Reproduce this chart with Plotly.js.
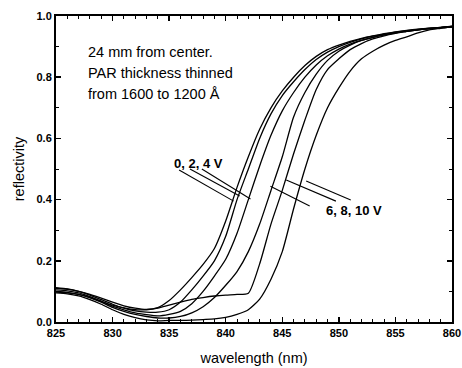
<!DOCTYPE html>
<html>
<head>
<meta charset="utf-8">
<script src="https://cdn.plot.ly/plotly-3.0.1.min.js"></script>
<style>
html,body{margin:0;padding:0;background:#fff;}
#chart{width:462px;height:368px;}
</style>
</head>
<body>
<div id="chart"></div>
<script>
// wavelength grid (nm)
var wavelength = [825,826,827,828,829,830,831,832,833,834,835,836,837,838,839,840,841,842,843,844,845,846,847,848,849,850,851,852,853,854,855,856,857,858,859,860];

// reflectivity curves for each bias voltage
var r0V  = [0.110,0.107,0.100,0.090,0.078,0.065,0.053,0.045,0.041,0.047,0.070,0.105,0.145,0.188,0.240,0.330,0.440,0.540,0.630,0.700,0.755,0.800,0.838,0.868,0.890,0.905,0.917,0.927,0.935,0.942,0.948,0.953,0.957,0.960,0.963,0.966];
var r2V  = [0.112,0.108,0.100,0.088,0.073,0.058,0.045,0.036,0.032,0.032,0.040,0.065,0.105,0.150,0.200,0.280,0.400,0.500,0.600,0.680,0.740,0.785,0.825,0.858,0.882,0.900,0.914,0.925,0.934,0.941,0.947,0.952,0.956,0.960,0.963,0.967];
var r4V  = [0.105,0.102,0.095,0.083,0.068,0.052,0.040,0.030,0.024,0.020,0.025,0.035,0.060,0.100,0.150,0.205,0.290,0.400,0.510,0.610,0.690,0.750,0.800,0.840,0.870,0.892,0.908,0.920,0.930,0.938,0.945,0.950,0.955,0.959,0.962,0.966];
var r6V  = [0.100,0.097,0.090,0.080,0.065,0.048,0.035,0.025,0.018,0.013,0.013,0.018,0.030,0.050,0.080,0.120,0.165,0.230,0.320,0.430,0.540,0.670,0.750,0.810,0.855,0.885,0.905,0.920,0.930,0.938,0.945,0.950,0.955,0.959,0.962,0.964];
var r8V  = [0.098,0.095,0.090,0.080,0.067,0.055,0.046,0.040,0.040,0.045,0.055,0.065,0.074,0.080,0.085,0.088,0.090,0.094,0.190,0.320,0.430,0.550,0.660,0.760,0.825,0.860,0.890,0.910,0.925,0.935,0.943,0.950,0.955,0.959,0.962,0.964];
var r10V = [0.095,0.092,0.085,0.073,0.058,0.040,0.025,0.014,0.007,0.004,0.005,0.005,0.006,0.008,0.010,0.015,0.025,0.040,0.075,0.140,0.230,0.370,0.500,0.610,0.700,0.765,0.820,0.860,0.885,0.905,0.920,0.932,0.945,0.955,0.960,0.965];

var seriesNames = ['0 V','2 V','4 V','6 V','8 V','10 V'];
var seriesValues = [r0V, r2V, r4V, r6V, r8V, r10V];

// axis ticks
var xTickVals = [825,830,835,840,845,850,855,860];
var xTickText = ['825','830','835','840','845','850','855','860'];
var yTickVals = [0,0.2,0.4,0.6,0.8,1.0];
var yTickText = ['0.0','0.2','0.4','0.6','0.8','1.0'];

var traces = seriesValues.map(function(v, i){
  return {
    x: wavelength, y: v, name: seriesNames[i], type: 'scatter', mode: 'lines',
    line: {color: '#000', width: 1.3, shape: 'spline', smoothing: 0.6},
    showlegend: false, hoverinfo: 'skip'
  };
});

var tickFont = {family: 'Liberation Sans, Arial, sans-serif', size: 11, color: '#000', weight: 'bold'};
var txtFont = {family: 'Liberation Sans, Arial, sans-serif', size: 14.5, color: '#000'};
var lblFont = {family: 'Liberation Sans, Arial, sans-serif', size: 13, color: '#000', weight: 'bold'};

function seg(x0,y0,x1,y1){
  return {type:'line', xref:'x', yref:'y', x0:x0, y0:y0, x1:x1, y1:y1, line:{color:'#000', width:1.1}};
}

var layout = {
  width: 462, height: 368,
  margin: {l: 56, r: 10, t: 16, b: 46},
  paper_bgcolor: '#fff', plot_bgcolor: '#fff',
  xaxis: {
    range: [825, 860], tickvals: xTickVals, ticktext: xTickText,
    ticks: 'inside', ticklen: 5, tickwidth: 1.5, tickcolor: '#000',
    showline: true, linewidth: 2, linecolor: '#000', mirror: 'allticks',
    showgrid: false, zeroline: false, tickfont: tickFont, ticklabeloverflow: 'allow',
    minor: {dtick: 1, tick0: 825, ticks: 'inside', ticklen: 3, tickwidth: 1, tickcolor: '#000', showgrid: false},
    title: {text: 'wavelength (nm)', font: txtFont, standoff: 15}
  },
  yaxis: {
    range: [0, 1], tickvals: yTickVals, ticktext: yTickText,
    ticks: 'inside', ticklen: 5, tickwidth: 1.5, tickcolor: '#000',
    showline: true, linewidth: 2, linecolor: '#000', mirror: 'allticks',
    showgrid: false, zeroline: false, tickfont: tickFont, ticklabeloverflow: 'allow',
    minor: {dtick: 0.1, tick0: 0, ticks: 'inside', ticklen: 3, tickwidth: 1, tickcolor: '#000', showgrid: false},
    title: {text: 'reflectivity', font: txtFont, standoff: 8}
  },
  annotations: [
    {xref:'x', yref:'y', x: 827.63, y: 0.882, xanchor:'left', yanchor:'middle', showarrow:false, text:'24 mm from center.', font: txtFont},
    {xref:'x', yref:'y', x: 827.63, y: 0.814, xanchor:'left', yanchor:'middle', showarrow:false, text:'PAR thickness thinned', font: txtFont},
    {xref:'x', yref:'y', x: 827.63, y: 0.745, xanchor:'left', yanchor:'middle', showarrow:false, text:'from 1600 to 1200 Å', font: txtFont},
    {xref:'x', yref:'y', x: 835.26, y: 0.517, xanchor:'left', yanchor:'middle', showarrow:false, text:'0, 2, 4 V', font: lblFont},
    {xref:'x', yref:'y', x: 848.68, y: 0.364, xanchor:'left', yanchor:'middle', showarrow:false, text:'6, 8, 10 V', font: lblFont}
  ],
  shapes: [
    seg(835.88,0.497,840.70,0.395),
    seg(836.84,0.500,841.23,0.412),
    seg(837.89,0.500,842.19,0.402),
    seg(843.95,0.444,847.42,0.379),
    seg(845.35,0.464,849.74,0.395),
    seg(847.11,0.461,851.05,0.399)
  ]
};

Plotly.newPlot('chart', traces, layout, {staticPlot: true, displayModeBar: false});
</script>
</body>
</html>
